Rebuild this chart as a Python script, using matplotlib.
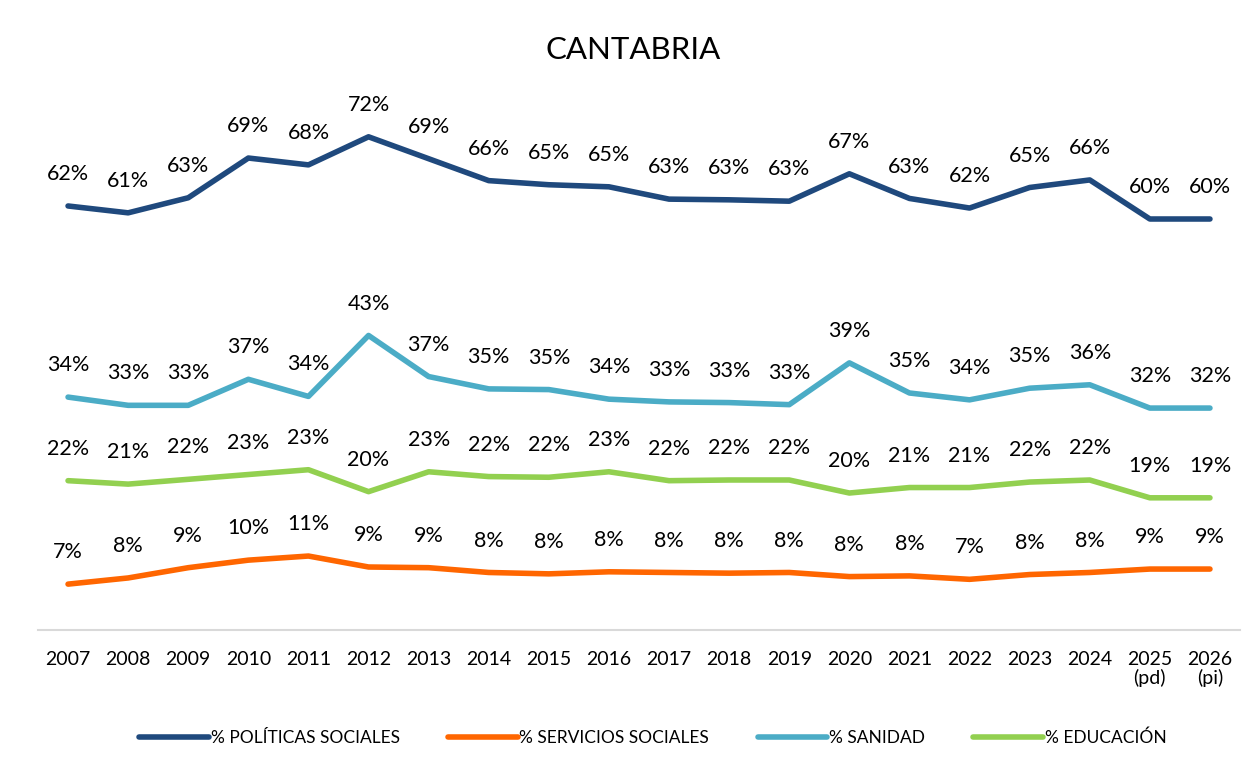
import matplotlib.pyplot as plt

plt.rcParams['font.family'] = ['Lato', 'DejaVu Sans']

years = ["2007", "2008", "2009", "2010", "2011", "2012", "2013", "2014", "2015", "2016",
         "2017", "2018", "2019", "2020", "2021", "2022", "2023", "2024", "2025\n(pd)", "2026\n(pi)"]

politicas = [61.9, 60.9, 63.1, 68.9, 67.9, 72.0, 68.8, 65.6, 65.0, 64.7,
             62.9, 62.8, 62.6, 66.6, 63.0, 61.6, 64.6, 65.7, 60.0, 60.0]
servicios = [6.7, 7.6, 9.1, 10.2, 10.8, 9.2, 9.1, 8.4, 8.2, 8.5,
             8.4, 8.3, 8.4, 7.8, 7.9, 7.4, 8.1, 8.4, 8.9, 8.9]
sanidad = [34.0, 32.8, 32.8, 36.6, 34.1, 43.0, 37.0, 35.2, 35.1, 33.7,
           33.3, 33.2, 32.9, 39.0, 34.6, 33.6, 35.3, 35.8, 32.4, 32.4]
educacion = [21.8, 21.3, 22.0, 22.7, 23.4, 20.2, 23.1, 22.4, 22.3, 23.1,
             21.8, 21.9, 21.9, 20.0, 20.8, 20.8, 21.6, 21.9, 19.3, 19.3]

series = [
    ("% POLÍTICAS SOCIALES", politicas, "#1F497D"),
    ("% SERVICIOS SOCIALES", servicios, "#FF6600"),
    ("% SANIDAD", sanidad, "#4BACC6"),
    ("% EDUCACIÓN", educacion, "#92D050"),
]

fig = plt.figure(figsize=(12.58, 7.62), dpi=100)
ax = fig.add_axes([0.0302, 0.1732, 0.9555, 0.7192])

x = list(range(len(years)))
for name, vals, col in series:
    ax.plot(x, vals, color=col, lw=4, solid_capstyle='round', label=name)
    for xi, v in zip(x, vals):
        ax.annotate(f"{round(v):.0f}%", (xi, v), xytext=(0, 23), textcoords='offset points',
                    ha='center', va='center', fontsize=15.5, color='black')

ax.set_xlim(-0.5, len(years) - 0.5)
ax.set_ylim(0, 80)
ax.set_xticks(x)
ax.set_xticklabels(years, fontsize=14, linespacing=1.05)
ax.tick_params(axis='x', length=0, pad=15)
ax.set_yticks([])
for s in ['top', 'left', 'right']:
    ax.spines[s].set_visible(False)
ax.spines['bottom'].set_color('#D9D9D9')
ax.spines['bottom'].set_linewidth(1.5)

fig.text(0.503, 1 - 50 / 762, "CANTABRIA", ha='center', va='center', fontsize=22.5)

fig.legend(loc='center', bbox_to_anchor=(0.519, 1 - 738 / 762), ncol=4, frameon=False,
           fontsize=12.5, handlelength=4.0, handletextpad=0.1, columnspacing=2.8)

fig.savefig("out.png", dpi=100)
